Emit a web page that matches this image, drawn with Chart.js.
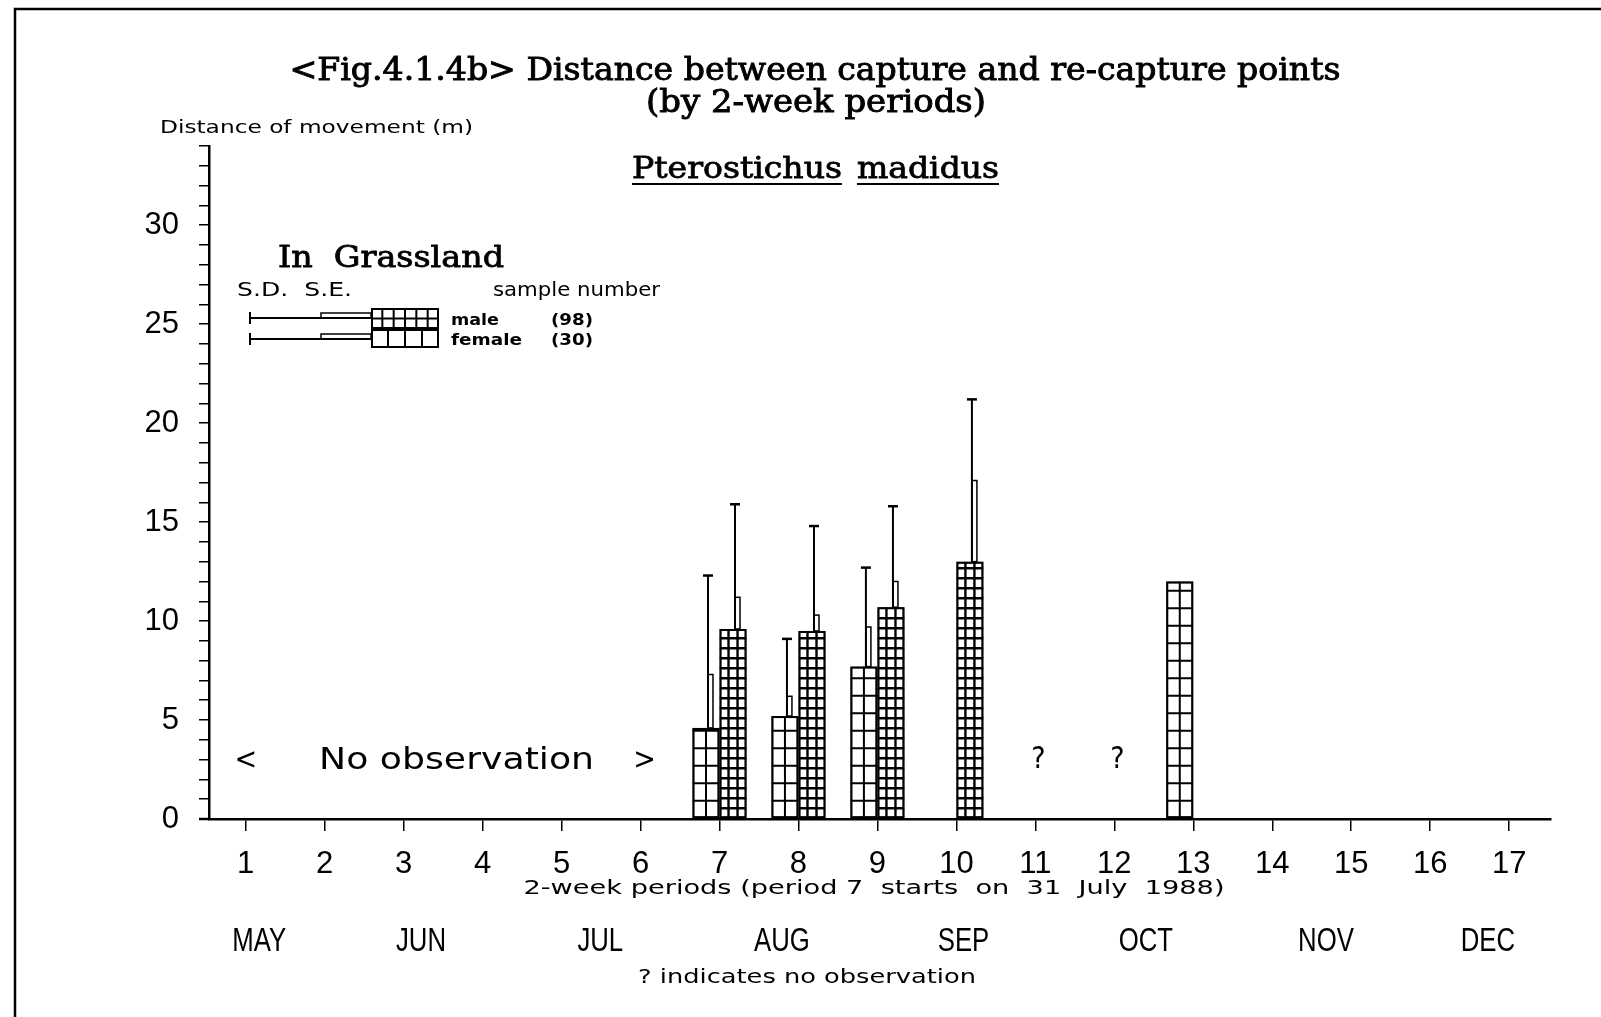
<!DOCTYPE html>
<html><head><meta charset="utf-8">
<script src="https://cdn.jsdelivr.net/npm/chart.js@4.4.1/dist/chart.umd.min.js"></script>
<style>html,body{margin:0;padding:0;background:#fff;} canvas{display:block;}</style>
</head><body>
<canvas id="c" width="1601" height="1017"></canvas>
<script>
// ---------------- data ----------------
const periods = [1,2,3,4,5,6,7,8,9,10,11,12,13,14,15,16,17];
const femalePeriods = [7, 8, 9, 13];
const femaleMean    = [4.6, 5.2, 7.7, 12.0];
const femaleSE      = [2.7, 1.0, 2.0, null];
const femaleSD      = [7.7, 3.9, 5.0, null];
const malePeriods   = [7, 8, 9, 10];
const maleMean      = [9.6, 9.5, 10.7, 13.0];
const maleSE        = [1.6, 0.8, 1.3, 4.1];
const maleSD        = [6.3, 5.3, 5.1, 8.2];
const yLabelled     = [0, 5, 10, 15, 20, 25, 30];
const yMax          = 34;
const monthLabels   = ['MAY','JUN','JUL','AUG','SEP','OCT','NOV','DEC'];
const monthPos      = [1.17, 3.22, 5.49, 7.79, 10.09, 12.40, 14.68, 16.73];
const noObsPeriods  = [11, 12];
const sampleNumbers = {male: 98, female: 30};

// ---------------- styling ----------------
const INK = '#000';
const HATCH = [ {cols: 2, rowH: 17.5, lw: 2}, {cols: 3, rowH: 10, lw: 2.4} ]; // female, male
const SANS = '"Liberation Sans", "DejaVu Sans", sans-serif';
const DSANS = '"DejaVu Sans", sans-serif';
const SERIF = '"DejaVu Serif", serif';

function txt(ctx, s, x, y, size, family, o = {}) {
  ctx.save();
  ctx.font = `${o.weight || 'normal'} ${size}px ${family}`;
  ctx.fillStyle = INK;
  ctx.strokeStyle = INK;
  ctx.textBaseline = 'alphabetic';
  ctx.textAlign = o.align || 'left';
  const w = ctx.measureText(s).width;
  let sx = o.sx || 1;
  if (o.width) sx = o.width / w;
  ctx.translate(x, y);
  ctx.scale(sx, 1);
  ctx.fillText(s, 0, 0);
  if (o.stroke) { ctx.lineWidth = o.stroke; ctx.strokeText(s, 0, 0); }
  ctx.restore();
  return w * sx;
}

function hatchRect(ctx, l, t, r, b, cols, rowH, lw) {
  ctx.save();
  ctx.beginPath(); ctx.rect(l, t, r - l, b - t); ctx.clip();
  ctx.strokeStyle = INK; ctx.lineWidth = lw || 2;
  ctx.beginPath();
  const cw = (r - l) / cols;
  for (let k = 1; k < cols; k++) { const x = l + k * cw; ctx.moveTo(x, t); ctx.lineTo(x, b); }
  for (let yy = b - rowH; yy > t + 2; yy -= rowH) { ctx.moveTo(l, yy); ctx.lineTo(r, yy); }
  ctx.stroke();
  ctx.restore();
  ctx.save();
  ctx.strokeStyle = INK; ctx.lineWidth = 2;
  ctx.strokeRect(l + 1, t + 1, r - l - 2, b - t - 2);
  ctx.restore();
}

const decor = {
  id: 'decor',
  beforeDraw(chart) {
    const ctx = chart.ctx;
    ctx.save();
    ctx.fillStyle = '#fff';
    ctx.fillRect(0, 0, chart.width, chart.height);
    ctx.restore();
  },
  afterDatasetsDraw(chart) {
    const ctx = chart.ctx;
    const ys = chart.scales.y;
    const sets = [
      {mean: femaleMean, se: femaleSE, sd: femaleSD},
      {mean: maleMean, se: maleSE, sd: maleSD}
    ];
    chart.data.datasets.forEach((ds, di) => {
      const meta = chart.getDatasetMeta(di);
      const h = HATCH[di];
      const s = sets[di];
      meta.data.forEach((bar, i) => {
        const p = bar.getProps(['x', 'y', 'base', 'width'], true);
        const l = p.x - p.width / 2, r = p.x + p.width / 2;
        hatchRect(ctx, l, p.y, r, p.base, h.cols, h.rowH, h.lw);
        if (s.sd[i] != null) {
          const x0 = p.x + 2;
          const ySD = ys.getPixelForValue(s.mean[i] + s.sd[i]);
          const ySE = ys.getPixelForValue(s.mean[i] + s.se[i]);
          ctx.save();
          ctx.strokeStyle = INK;
          ctx.lineWidth = 2;
          ctx.beginPath(); ctx.moveTo(x0, p.y); ctx.lineTo(x0, ySD); ctx.stroke();
          ctx.lineWidth = 2.5;
          ctx.beginPath(); ctx.moveTo(x0 - 5, ySD); ctx.lineTo(x0 + 5, ySD); ctx.stroke();
          ctx.lineWidth = 1.5;
          ctx.strokeRect(x0, ySE, 5, p.y - ySE);
          ctx.restore();
        }
      });
    });
  },
  afterDraw(chart) {
    const ctx = chart.ctx;
    const xs = chart.scales.x, ys = chart.scales.y;
    const area = chart.chartArea;

    // frame
    ctx.save();
    ctx.strokeStyle = INK; ctx.lineWidth = 2.5;
    ctx.beginPath(); ctx.moveTo(15, 1017); ctx.lineTo(15, 9); ctx.lineTo(1601, 9); ctx.stroke();
    // x-axis line extends slightly left of the y axis
    ctx.beginPath(); ctx.moveTo(area.left - 10, area.bottom); ctx.lineTo(area.left, area.bottom); ctx.stroke();
    ctx.restore();

    // titles
    txt(ctx, '<Fig.4.1.4b> Distance between capture and re-capture points', 815, 80, 31, SERIF, {align: 'center', width: 1051, stroke: 0.9});
    txt(ctx, '(by 2-week periods)', 816, 112, 31, SERIF, {align: 'center', width: 340, stroke: 0.9});
    txt(ctx, 'Distance of movement (m)', 160, 133, 18, DSANS, {width: 313});

    // species name, underlined words
    const w1 = txt(ctx, 'Pterostichus', 632, 178, 30, SERIF, {width: 210, stroke: 0.8});
    const w2 = txt(ctx, 'madidus', 857, 178, 30, SERIF, {width: 142, stroke: 0.8});
    ctx.save();
    ctx.strokeStyle = INK; ctx.lineWidth = 2.2;
    ctx.beginPath();
    ctx.moveTo(632, 184); ctx.lineTo(632 + w1, 184);
    ctx.moveTo(857, 184); ctx.lineTo(857 + w2, 184);
    ctx.stroke();
    ctx.restore();

    // legend
    txt(ctx, 'In  Grassland', 278, 267, 30, SERIF, {width: 226, stroke: 0.8});
    txt(ctx, 'S.D.  S.E.', 237, 296, 19, DSANS, {width: 115});
    txt(ctx, 'sample number', 493, 296, 19, DSANS, {width: 167});
    const legRows = [
      {label: 'male', n: sampleNumbers.male, t: 308, b: 329, cols: 6, rowH: 10.5, yl: 318, base: 325},
      {label: 'female', n: sampleNumbers.female, t: 329, b: 348, cols: 4, rowH: 100, yl: 339, base: 345}
    ];
    legRows.forEach(rw => {
      ctx.save();
      ctx.strokeStyle = INK; ctx.lineWidth = 2;
      ctx.beginPath();
      ctx.moveTo(250, rw.yl); ctx.lineTo(371, rw.yl);
      ctx.moveTo(250, rw.yl - 6); ctx.lineTo(250, rw.yl + 6);
      ctx.stroke();
      ctx.lineWidth = 1.5;
      ctx.strokeRect(321, rw.yl - 5, 50, 5);
      ctx.restore();
      ctx.save(); ctx.fillStyle = '#fff'; ctx.fillRect(371, rw.t, 68, rw.b - rw.t); ctx.restore();
      hatchRect(ctx, 371, rw.t, 439, rw.b, rw.cols, rw.rowH, 2);
      txt(ctx, rw.label, 451, rw.base, 16, DSANS, {width: rw.label === 'male' ? 48 : 71, weight: 'bold'});
      txt(ctx, '(' + rw.n + ')', 551, rw.base, 16, DSANS, {width: 42, weight: 'bold'});
    });

    // annotations inside the plot
    const yNo = ys.getPixelForValue(2.55);
    txt(ctx, '<', xs.getPixelForValue(1), yNo, 30, DSANS, {align: 'center', sx: 0.9});
    txt(ctx, '>', xs.getPixelForValue(6.05), yNo, 30, DSANS, {align: 'center', sx: 0.9});
    txt(ctx, 'No observation', xs.getPixelForValue(3.67), yNo, 30, DSANS, {align: 'center', width: 275});
    noObsPeriods.forEach(p => {
      txt(ctx, '?', xs.getPixelForValue(p) + 3, ys.getPixelForValue(2.6), 30, DSANS, {align: 'center', sx: 0.9});
    });

    // axis captions
    txt(ctx, '2-week periods (period 7  starts  on  31  July  1988)', 874, 894, 19, DSANS, {align: 'center', width: 701});
    monthLabels.forEach((m, i) => {
      txt(ctx, m, xs.getPixelForValue(monthPos[i]), 951, 33, SANS, {align: 'center', sx: 0.78});
    });
    txt(ctx, '? indicates no observation', 807, 983, 19, DSANS, {align: 'center', width: 338});
  }
};

const ctx = document.getElementById('c').getContext('2d');
new Chart(ctx, {
  type: 'bar',
  data: {
    datasets: [
      { label: 'female', data: femalePeriods.map((p, i) => ({x: p, y: femaleMean[i]})),
        backgroundColor: '#fff', borderColor: INK, borderWidth: 2, borderSkipped: false,
        categoryPercentage: 0.685, barPercentage: 1.0 },
      { label: 'male', data: malePeriods.map((p, i) => ({x: p, y: maleMean[i]})),
        backgroundColor: '#fff', borderColor: INK, borderWidth: 2, borderSkipped: false,
        categoryPercentage: 0.685, barPercentage: 1.0 }
    ]
  },
  options: {
    responsive: false, animation: false, devicePixelRatio: 1,
    layout: {padding: {left: 0, right: 50, top: 146, bottom: 0}},
    plugins: {legend: {display: false}, tooltip: {enabled: false}, title: {display: false}},
    scales: {
      x: {
        type: 'linear', min: 0.535, max: 17.53, offset: false,
        afterBuildTicks: s => { s.ticks = periods.map(v => ({value: v})); },
        afterFit: s => { s.height = 198; },
        grid: {display: true, drawOnChartArea: false, drawTicks: true, tickLength: 12, color: INK, lineWidth: 1.5, offset: false},
        border: {display: true, color: INK, width: 2.5},
        ticks: {font: {family: SANS, size: 31}, color: INK, padding: 15, maxRotation: 0, autoSkip: false,
                callback: v => String(v)}
      },
      y: {
        type: 'linear', min: 0, max: yMax,
        afterBuildTicks: s => { const t = []; for (let v = 0; v <= yMax; v++) t.push({value: v}); s.ticks = t; },
        afterFit: s => { s.width = 209; },
        grid: {display: true, drawOnChartArea: false, drawTicks: true, tickLength: 10, color: INK, lineWidth: 1.5},
        border: {display: true, color: INK, width: 2.5},
        ticks: {font: {family: SANS, size: 31}, color: INK, padding: 20, autoSkip: false,
                callback: v => yLabelled.includes(v) ? String(v) : ''}
      }
    }
  },
  plugins: [decor]
});
</script>
</body></html>
